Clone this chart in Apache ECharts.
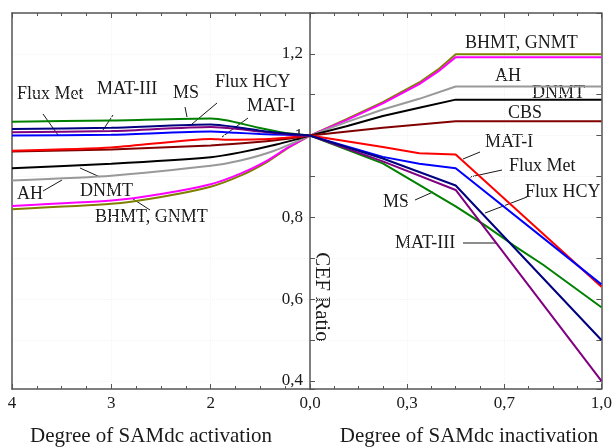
<!DOCTYPE html>
<html lang="en" style="height: 100%">
<head>
  <meta charset="utf-8">
</head>
<body style="height: 100%; margin: 0; background: #fff">
  <div id="container" style="width: 615px; height: 447px"></div>

  <script type="text/javascript" src="https://cdn.jsdelivr.net/npm/echarts@6.0.0/dist/echarts.min.js"></script>
  <script type="text/javascript">
// --- data: [degree, CEF ratio] ---
// left panel, SAMdc activation (4 .. 1, drawn reversed)
var actGNMT    = [[4, 0.820], [3, 0.833], [2.5, 0.850], [2, 0.875], [1.7, 0.902], [1.43, 0.936], [1.22, 0.970], [1, 1]];
var actBHMT    = [[4, 0.828], [3, 0.841], [2.5, 0.857], [2, 0.881], [1.7, 0.907], [1.43, 0.939], [1.22, 0.971], [1, 1]];
var actAH      = [[4, 0.890], [3, 0.902], [2, 0.926], [1.7, 0.939], [1.36, 0.963], [1, 1]];
var actDNMT    = [[4, 0.920], [3, 0.931], [2, 0.947], [1.7, 0.959], [1.36, 0.977], [1, 1]];
var actCBS     = [[4, 0.961], [3, 0.966], [2, 0.976], [1.5, 0.985], [1.2, 0.993], [1, 1]];
var actMAT1    = [[4, 0.963], [3, 0.971], [2, 0.992], [1.85, 0.990], [1.5, 0.991], [1.25, 0.995], [1, 1]];
var actFluxMet = [[4, 1.000], [3, 1.002], [2, 1.010], [1.75, 1.007], [1.5, 1.004], [1.25, 1.002], [1, 1]];
var actMS      = [[4, 1.034], [3, 1.037], [2, 1.042], [1.83, 1.037], [1.53, 1.020], [1.26, 1.007], [1, 1]];
var actMAT3    = [[4, 1.008], [3, 1.011], [2, 1.021], [1.75, 1.017], [1.5, 1.010], [1.25, 1.004], [1, 1]];
var actFluxHCY = [[4, 1.016], [3, 1.019], [2, 1.027], [1.75, 1.021], [1.5, 1.012], [1.25, 1.005], [1, 1]];

// right panel, SAMdc inactivation (0 .. 1)
var inaGNMT    = [[0, 1], [0.125, 1.040], [0.25, 1.082], [0.375, 1.130], [0.44, 1.162], [0.5, 1.199], [1, 1.199]];
var inaBHMT    = [[0, 1], [0.125, 1.038], [0.25, 1.079], [0.375, 1.126], [0.44, 1.157], [0.5, 1.192], [1, 1.192]];
var inaAH      = [[0, 1], [0.125, 1.033], [0.25, 1.064], [0.375, 1.090], [0.5, 1.120], [1, 1.120]];
var inaDNMT    = [[0, 1], [0.125, 1.023], [0.25, 1.048], [0.375, 1.068], [0.5, 1.088], [1, 1.088]];
var inaCBS     = [[0, 1], [0.25, 1.019], [0.5, 1.035], [1, 1.035]];
var inaMAT1    = [[0, 1], [0.25, 0.972], [0.375, 0.957], [0.5, 0.954], [1, 0.630]];
var inaFluxMet = [[0, 1], [0.25, 0.948], [0.375, 0.931], [0.5, 0.920], [1, 0.636]];
var inaMS      = [[0, 1], [0.25, 0.932], [0.5, 0.827], [0.6, 0.781], [0.7, 0.731], [0.8, 0.684], [0.9, 0.632], [1, 0.580]];
var inaMAT3    = [[0, 1], [0.25, 0.937], [0.5, 0.867], [1, 0.400]];
var inaFluxHCY = [[0, 1], [0.25, 0.944], [0.5, 0.878], [1, 0.500]];

var seriesNames = ['GNMT', 'BHMT', 'AH', 'DNMT', 'CBS', 'MAT-I', 'Flux Met', 'MS', 'MAT-III', 'Flux HCY'];
var actData = [actGNMT, actBHMT, actAH, actDNMT, actCBS, actMAT1, actFluxMet, actMS, actMAT3, actFluxHCY];
var inaData = [inaGNMT, inaBHMT, inaAH, inaDNMT, inaCBS, inaMAT1, inaFluxMet, inaMS, inaMAT3, inaFluxHCY];
var seriesColors = ['#808000', '#ff00ff', '#999999', '#000000', '#800000', '#ff0000', '#0000ff', '#008000', '#800080', '#000080'];

// --- annotations (pixel layout) ---
var notes = [
  { text: 'Flux Met', x: 17, y: 94, line: [43, 114, 58, 135] },
  { text: 'MAT-III', x: 97, y: 89, line: [113, 115, 103, 130] },
  { text: 'MS', x: 173, y: 93, line: [185, 107, 187, 117] },
  { text: 'Flux HCY', x: 215, y: 82, line: [217, 103, 192, 124] },
  { text: 'MAT-I', x: 247, y: 106, line: [248, 118, 222, 137] },
  { text: 'AH', x: 17, y: 194, line: [43, 191, 62, 180] },
  { text: 'DNMT', x: 80, y: 191, line: [100, 177, 80, 168] },
  { text: 'BHMT, GNMT', x: 95, y: 217, line: [133, 199, 150, 210] },
  { text: 'BHMT, GNMT', x: 465, y: 43 },
  { text: 'AH', x: 495, y: 76 },
  { text: 'DNMT', x: 532, y: 93 },
  { text: 'CBS', x: 508, y: 113 },
  { text: 'MAT-I', x: 485, y: 142, line: [480, 152, 463, 159] },
  { text: 'Flux Met', x: 509, y: 166, line: [502, 170, 470, 177] },
  { text: 'Flux HCY', x: 525, y: 192, line: [527, 197, 485, 213] },
  { text: 'MS', x: 383, y: 202, line: [415, 200, 433, 192] },
  { text: 'MAT-III', x: 395, y: 243, line: [463, 243, 497, 243] }
];

var FONT = '"Liberation Serif", "Times New Roman", serif';
var AXIS_COLOR = '#555';
var TEXT_COLOR = '#1a1a1a';

function commaNum(v) {
  return v.toFixed(1).replace('.', ',');
}

var dom = document.getElementById('container');
var myChart = echarts.init(dom, null, { renderer: 'canvas' });

var yMin = 0.38, yMax = 1.3;

function frameAxis(extra) {
  var base = {
    axisLine: { show: true, onZero: false, lineStyle: { color: AXIS_COLOR, width: 1.5 } },
    axisTick: { show: true, inside: true, length: 5, lineStyle: { color: AXIS_COLOR } },
    minorTick: { show: true, splitNumber: 4, length: 3, lineStyle: { color: AXIS_COLOR } },
    axisLabel: { show: false },
    splitLine: { show: false }
  };
  return Object.assign(base, extra);
}

var xLabel = { show: true, fontFamily: FONT, fontSize: 17, color: TEXT_COLOR, margin: 6 };
var faintGrid = { show: true, lineStyle: { color: '#f4f4f4', type: 'dotted' } };

var graphics = [];
notes.forEach(function (n) {
  graphics.push({
    type: 'text', x: n.x, y: n.y, silent: true,
    style: { text: n.text, font: '18px ' + FONT, fill: TEXT_COLOR, textAlign: 'left', textVerticalAlign: 'middle' }
  });
  if (n.line) {
    graphics.push({
      type: 'line', silent: true,
      shape: { x1: n.line[0], y1: n.line[1], x2: n.line[2], y2: n.line[3] },
      style: { stroke: TEXT_COLOR, lineWidth: 1 }
    });
  }
});
graphics.push({
  type: 'text', x: 151, y: 436, silent: true,
  style: { text: 'Degree of SAMdc activation', font: '21px ' + FONT, fill: TEXT_COLOR, textAlign: 'center', textVerticalAlign: 'middle' }
});
graphics.push({
  type: 'text', x: 469, y: 436, silent: true,
  style: { text: 'Degree of SAMdc inactivation', font: '21px ' + FONT, fill: TEXT_COLOR, textAlign: 'center', textVerticalAlign: 'middle' }
});
graphics.push({
  type: 'text', x: 322, y: 297, rotation: -Math.PI / 2, silent: true,
  style: { text: 'CEF Ratio', font: '21px ' + FONT, fill: TEXT_COLOR, textAlign: 'center', textVerticalAlign: 'middle' }
});

var series = [];
seriesNames.forEach(function (name, i) {
  series.push({
    name: name, type: 'line', xAxisIndex: 0, yAxisIndex: 0,
    data: actData[i], showSymbol: false, smooth: 0.2,
    lineStyle: { color: seriesColors[i], width: 2 }, itemStyle: { color: seriesColors[i] }
  });
});
seriesNames.forEach(function (name, i) {
  series.push({
    name: name, type: 'line', xAxisIndex: 2, yAxisIndex: 1,
    data: inaData[i], showSymbol: false, smooth: false,
    lineStyle: { color: seriesColors[i], width: 2 }, itemStyle: { color: seriesColors[i] }
  });
});

var option = {
  animation: false,
  backgroundColor: '#fff',
  grid: [
    { left: 12, top: 13, width: 298, height: 376 },
    { left: 310, top: 13, width: 294, height: 376 }
  ],
  xAxis: [
    frameAxis({
      gridIndex: 0, type: 'value', position: 'bottom', min: 1, max: 4, interval: 1, inverse: true,
      axisLabel: Object.assign({}, xLabel, { formatter: function (v) { return v === 1 ? '' : String(v); } }),
      splitLine: faintGrid
    }),
    frameAxis({ gridIndex: 0, type: 'value', position: 'top', min: 1, max: 4, interval: 1, inverse: true }),
    frameAxis({
      gridIndex: 1, type: 'value', position: 'bottom', min: 0, max: 1, interval: 1 / 3,
      axisLabel: Object.assign({}, xLabel, { formatter: function (v) { return commaNum(v); } }),
      splitLine: faintGrid
    }),
    frameAxis({ gridIndex: 1, type: 'value', position: 'top', min: 0, max: 1, interval: 1 / 3 })
  ],
  yAxis: [
    frameAxis({
      gridIndex: 0, type: 'value', position: 'left', min: yMin, max: yMax, splitNumber: 9,
      axisTick: { show: false }, minorTick: { show: false },
      splitLine: faintGrid
    }),
    frameAxis({
      gridIndex: 1, type: 'value', position: 'left', min: yMin, max: yMax, splitNumber: 9,
      minorTick: { show: false },
      axisLabel: {
        show: true, inside: false, margin: 7, fontFamily: FONT, fontSize: 17, color: TEXT_COLOR,
        formatter: function (v) {
          var r = Math.round(v * 10);
          if (Math.abs(v * 10 - r) > 1e-6 || r % 2 !== 0) return '';
          return r === 10 ? '1' : commaNum(v);
        }
      },
      splitLine: faintGrid
    }),
    frameAxis({
      gridIndex: 1, type: 'value', position: 'right', min: yMin, max: yMax, splitNumber: 9,
      minorTick: { show: false }
    })
  ],
  graphic: graphics,
  series: series
};

myChart.setOption(option);
window.addEventListener('resize', myChart.resize);
  </script>
</body>
</html>
